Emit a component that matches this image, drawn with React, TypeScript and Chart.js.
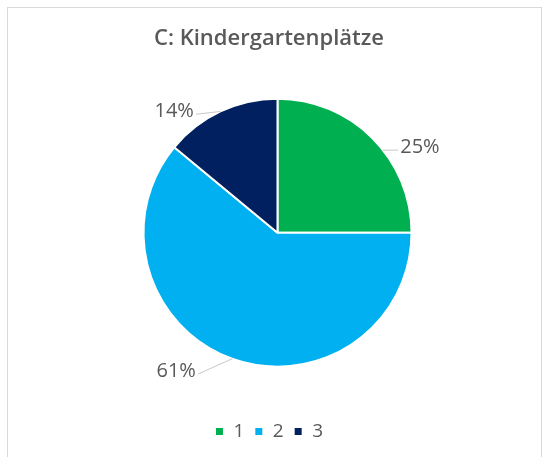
import React, { useEffect, useRef } from 'react';
import { Chart, registerables } from 'chart.js';

Chart.register(...registerables);

const chartTitle = 'C: Kindergartenplätze';
const categories = ['1', '2', '3'];
const shares = [25, 61, 14];
const sliceColors = ['#00B050', '#00B0F0', '#002060'];

// label placement relative to each slice: angular turn from mid-angle (deg), distance in radii, leader edge turn (deg)
const labelPlacement = [
  { turn: 14, dist: 1.24, edgeTurn: 7 },
  { turn: 16.4, dist: 1.28, edgeTurn: 0 },
  { turn: -15.2, dist: 1.19, edgeTurn: 0 },
];

const PIE_SHIFT_X = 17;
const TEXT_COLOR = '#595959';
const FONT = '"Open Sans", "DejaVu Sans", sans-serif';

const outsideLabels = {
  id: 'outsideLabels',
  afterLayout(chart: any) {
    const a = chart.chartArea;
    a.left += PIE_SHIFT_X;
    a.width = a.right - a.left;
  },
  afterDatasetsDraw(chart: any) {
    const meta = chart.getDatasetMeta(0);
    const ctx = chart.ctx;
    const values = chart.data.datasets[0].data as number[];
    const total = values.reduce((s, v) => s + v, 0);
    ctx.save();
    ctx.font = `20px ${FONT}`;
    ctx.textAlign = 'center';
    ctx.textBaseline = 'middle';
    meta.data.forEach((arc: any, i: number) => {
      const { x, y, startAngle, endAngle, outerRadius } = arc.getProps(
        ['x', 'y', 'startAngle', 'endAngle', 'outerRadius'],
        true
      );
      const mid = (startAngle + endAngle) / 2;
      const p = labelPlacement[i];
      const la = mid + (p.turn * Math.PI) / 180;
      const lx = x + Math.cos(la) * outerRadius * p.dist;
      const ly = y + Math.sin(la) * outerRadius * p.dist;
      const ea = mid + (p.edgeTurn * Math.PI) / 180;
      const ex = x + Math.cos(ea) * outerRadius;
      const ey = y + Math.sin(ea) * outerRadius;
      const text = Math.round((values[i] / total) * 100) + '%';
      const w = ctx.measureText(text).width;
      const sx = ex > lx ? lx + w / 2 + 2 : lx - w / 2 - 2;
      const sy = ly + 3;
      ctx.strokeStyle = '#c8c8c8';
      ctx.lineWidth = 1;
      ctx.beginPath();
      ctx.moveTo(sx, sy);
      ctx.lineTo(ex, ey);
      ctx.stroke();
      ctx.fillStyle = TEXT_COLOR;
      ctx.fillText(text, lx, ly);
    });
    ctx.restore();
  },
};

export default function App() {
  const canvasRef = useRef<HTMLCanvasElement | null>(null);

  useEffect(() => {
    const canvas = canvasRef.current;
    if (!canvas) return;
    const chart = new Chart(canvas, {
      type: 'pie',
      data: {
        labels: categories,
        datasets: [
          {
            data: shares,
            backgroundColor: sliceColors,
            borderColor: '#ffffff',
            borderWidth: 2,
            radius: 134,
          } as any,
        ],
      },
      options: {
        responsive: false,
        animation: false,
        layout: { padding: { left: 0, right: 10, top: 0, bottom: 6 } },
        plugins: {
          title: {
            display: true,
            text: chartTitle,
            color: TEXT_COLOR,
            font: { family: FONT, size: 22, weight: '600' as any },
            padding: { top: 18, bottom: 1 },
          },
          legend: {
            display: true,
            position: 'bottom',
            labels: {
              color: TEXT_COLOR,
              font: { family: FONT, size: 19 },
              boxWidth: 9,
              boxHeight: 9,
              padding: 10,
            },
          },
          tooltip: { enabled: false },
        },
      },
      plugins: [outsideLabels],
    });
    return () => chart.destroy();
  }, []);

  return (
    <div
      style={{
        position: 'absolute',
        left: 7,
        top: 7,
        width: 535,
        height: 470,
        border: '1px solid #d9d9d9',
        boxSizing: 'border-box',
        background: '#ffffff',
      }}
    >
      <canvas
        ref={canvasRef}
        width={532}
        height={449}
        style={{ display: 'block', width: 532, height: 449 }}
      />
    </div>
  );
}
